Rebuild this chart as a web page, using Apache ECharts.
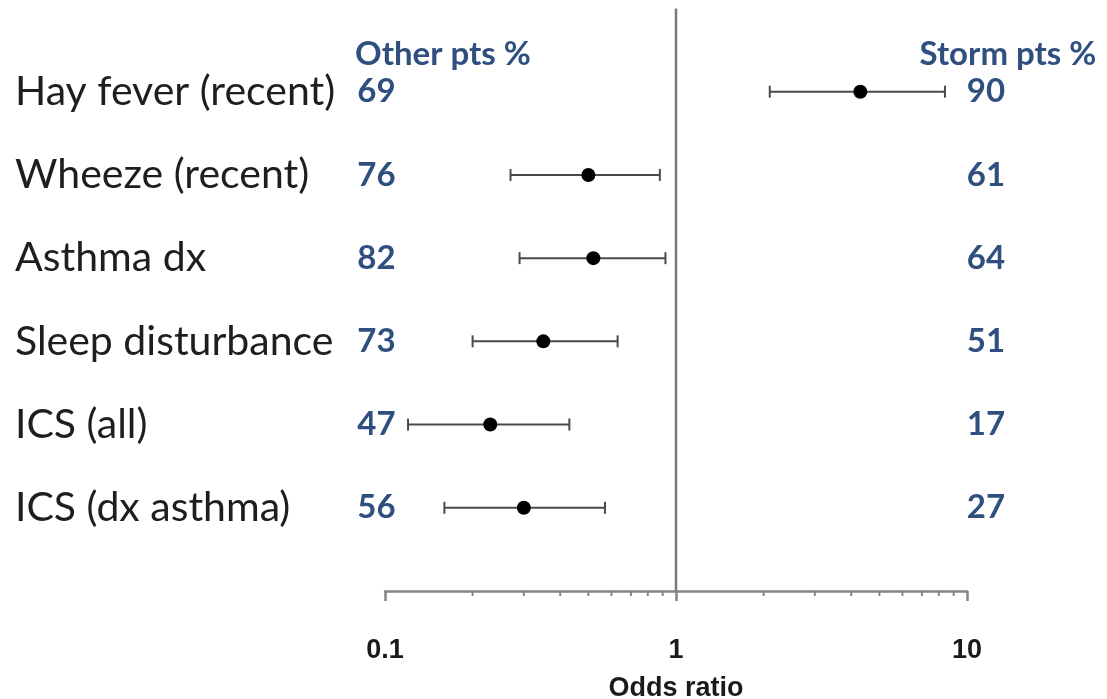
<!DOCTYPE html>
<html><head><meta charset="utf-8">
<script src="https://cdn.jsdelivr.net/npm/echarts@6/dist/echarts.min.js"></script>
<style>html,body{margin:0;padding:0;background:#fff}#c{width:1107px;height:699px}</style>
</head><body><div id="c"></div>
<script>
const categories = ['Hay fever (recent)', 'Wheeze (recent)', 'Asthma dx', 'Sleep disturbance', 'ICS (all)', 'ICS (dx asthma)'];
const oddsRatio = [4.3, 0.50, 0.52, 0.35, 0.23, 0.30];
const ciLow = [2.1, 0.27, 0.29, 0.20, 0.12, 0.16];
const ciHigh = [8.4, 0.88, 0.92, 0.63, 0.43, 0.57];
const otherPct = [69, 76, 82, 73, 47, 56];
const stormPct = [90, 61, 64, 51, 17, 27];
const xTickLabels = ['0.1', '1', '10'];
const minorTickValues = [0.2, 0.3, 0.4, 0.5, 0.6, 0.7, 0.8, 0.9, 2, 3, 4, 5, 6, 7, 8, 9];
const headerOther = 'Other pts %';
const headerStorm = 'Storm pts %';
const xTitle = 'Odds ratio';

const BLUE = '#2f4f7f';
const GREY = '#858585';
const rows = categories.map((c, i) => i + 1);

const chart = echarts.init(document.getElementById('c'), null, {renderer: 'canvas'});
const axisFont = {fontFamily: 'Liberation Sans', fontWeight: 'bold', fontSize: 27, color: '#1a1a1a'};
const numLabel = {fontFamily: 'Lato', fontWeight: 'bold', fontSize: 33, color: BLUE, opacity: 1};

chart.setOption({
  animation: false,
  backgroundColor: '#fff',
  grid: {left: 385, right: 140, top: 8.5, bottom: 108, containLabel: false, outerBoundsMode: 'none'},
  xAxis: {
    type: 'log', logBase: 10, min: 0.1, max: 10,
    axisLine: {onZero: false, lineStyle: {color: GREY, width: 2.5}},
    axisTick: {length: 10, lineStyle: {color: GREY, width: 2.5}},
    splitLine: {show: false},
    axisLabel: Object.assign({margin: 46, formatter: v => xTickLabels[Math.round(Math.log10(v)) + 1]}, axisFont),
    name: xTitle, nameLocation: 'middle', nameGap: 84,
    nameTextStyle: axisFont
  },
  yAxis: {
    type: 'value', min: 0, max: 7, interval: 1, inverse: true,
    axisLine: {show: false}, axisTick: {show: false}, splitLine: {show: false},
    axisLabel: {
      formatter: v => categories[v - 1] || '',
      align: 'left', margin: 370, padding: [12, 0, 0, 0],
      fontFamily: 'Lato', fontSize: 41, color: '#1e1e1e'
    }
  },
  graphic: [
    {type: 'text', x: 443, y: 54, style: {text: headerOther, textAlign: 'center', textVerticalAlign: 'middle', fontFamily: 'Lato', fontWeight: 'bold', fontSize: 33, fill: BLUE}},
    {type: 'text', x: 1008, y: 54, style: {text: headerStorm, textAlign: 'center', textVerticalAlign: 'middle', fontFamily: 'Lato', fontWeight: 'bold', fontSize: 33, fill: BLUE}}
  ],
  series: [
    {
      type: 'line', data: [[1, 0], [1, 7]], symbol: 'none', silent: true,
      lineStyle: {color: '#7a7a7a', width: 2.5}, z: 1
    },
    {
      type: 'custom', silent: true, z: 2,
      data: minorTickValues.map(v => [v]),
      renderItem: (params, api) => {
        const p = api.coord([api.value(0), 7]);
        return {type: 'line', shape: {x1: p[0], y1: p[1], x2: p[0], y2: p[1] + 5}, style: {stroke: GREY, lineWidth: 2}};
      }
    },
    {
      type: 'custom', silent: true, z: 3,
      data: rows.map((r, i) => [r, ciLow[i], ciHigh[i]]),
      renderItem: (params, api) => {
        const lo = api.coord([api.value(1), api.value(0)]);
        const hi = api.coord([api.value(2), api.value(0)]);
        const h = 6;
        const st = {stroke: '#4a4a4a', lineWidth: 2};
        return {type: 'group', children: [
          {type: 'line', shape: {x1: lo[0], y1: lo[1], x2: hi[0], y2: hi[1]}, style: st},
          {type: 'line', shape: {x1: lo[0], y1: lo[1] - h, x2: lo[0], y2: lo[1] + h}, style: st},
          {type: 'line', shape: {x1: hi[0], y1: hi[1] - h, x2: hi[0], y2: hi[1] + h}, style: st}
        ]};
      }
    },
    {
      type: 'scatter', z: 4, symbol: 'circle', symbolSize: 14, silent: true,
      itemStyle: {color: '#000', opacity: 1},
      data: rows.map((r, i) => [oddsRatio[i], r])
    },
    {
      type: 'scatter', z: 5, symbolSize: 1, silent: true,
      itemStyle: {color: 'rgba(0,0,0,0)', opacity: 1},
      data: rows.map((r, i) => [0.1, r, otherPct[i]]),
      label: Object.assign({show: true, position: 'inside', offset: [-8.5, 0], formatter: p => String(p.value[2])}, numLabel)
    },
    {
      type: 'scatter', z: 5, symbolSize: 1, silent: true,
      itemStyle: {color: 'rgba(0,0,0,0)', opacity: 1},
      data: rows.map((r, i) => [10, r, stormPct[i]]),
      label: Object.assign({show: true, position: 'inside', offset: [19, 0], formatter: p => String(p.value[2])}, numLabel)
    }
  ]
});
</script>
</body></html>
